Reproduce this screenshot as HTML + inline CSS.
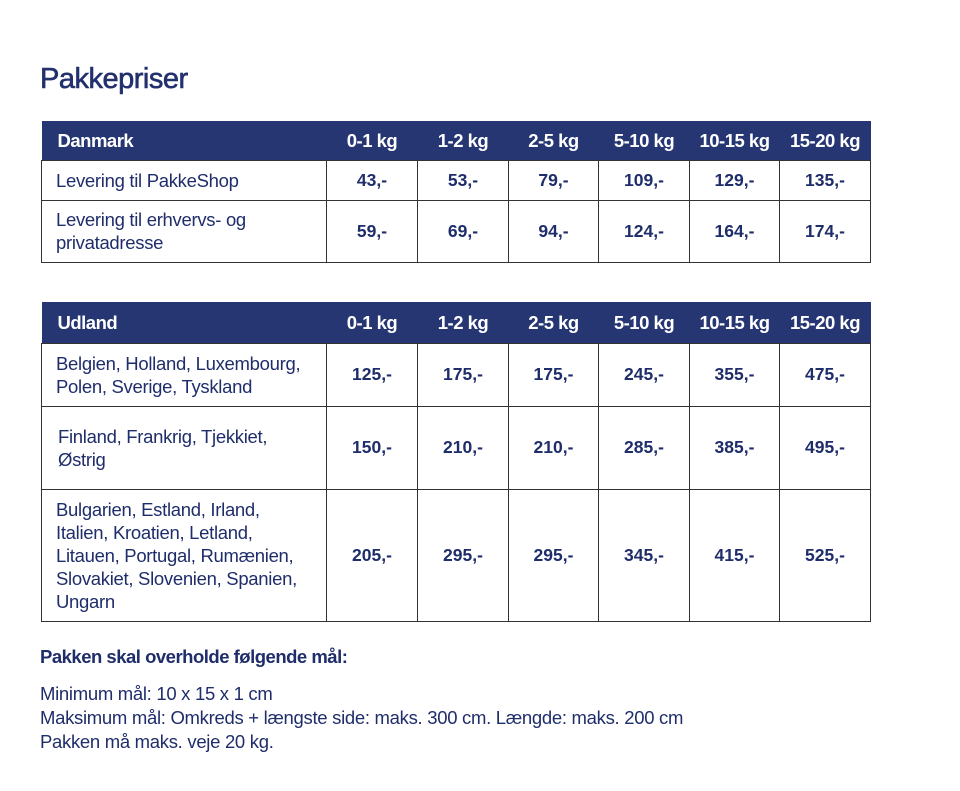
<!DOCTYPE html>
<html><head><meta charset="utf-8"><style>
body{margin:0;width:960px;height:791px;background:#fff;font-family:"Liberation Sans",sans-serif;color:#1f2d6b;position:relative;overflow:hidden}
h1{position:absolute;left:40px;top:63px;margin:0;font-size:29px;font-weight:normal;letter-spacing:-0.5px;color:#23306e;-webkit-text-stroke:0.6px #23306e}
table{position:absolute;left:41px;border-collapse:collapse;table-layout:fixed;width:829px}
td,th{border:1.5px solid #333;font-size:18.5px;line-height:23px;padding:0}
th{background:#253673;color:#fff;font-weight:bold;border:none;text-align:center;letter-spacing:-0.5px}
th.f{text-align:left;padding-left:16px}
td{text-align:center;font-weight:bold;font-size:17.5px}
td.f{text-align:left;font-weight:normal;padding-left:14px;font-size:18.5px;letter-spacing:-0.3px}
.p{position:absolute;left:40px;margin:0;font-size:18.5px;letter-spacing:-0.3px}
</style></head><body>
<h1>Pakkepriser</h1>
<table style="top:121px">
<colgroup><col style="width:285px"><col style="width:91px"><col style="width:91px"><col style="width:90px"><col style="width:91px"><col style="width:90px"><col style="width:91px"></colgroup>
<tr style="height:39px"><th class="f">Danmark</th><th>0-1 kg</th><th>1-2 kg</th><th>2-5 kg</th><th>5-10 kg</th><th>10-15 kg</th><th>15-20 kg</th></tr>
<tr style="height:40px"><td class="f">Levering til PakkeShop</td><td>43,-</td><td>53,-</td><td>79,-</td><td>109,-</td><td>129,-</td><td>135,-</td></tr>
<tr style="height:62px"><td class="f">Levering til erhvervs- og<br>privatadresse</td><td>59,-</td><td>69,-</td><td>94,-</td><td>124,-</td><td>164,-</td><td>174,-</td></tr>
</table>
<table style="top:302px">
<colgroup><col style="width:285px"><col style="width:91px"><col style="width:91px"><col style="width:90px"><col style="width:91px"><col style="width:90px"><col style="width:91px"></colgroup>
<tr style="height:41px"><th class="f">Udland</th><th>0-1 kg</th><th>1-2 kg</th><th>2-5 kg</th><th>5-10 kg</th><th>10-15 kg</th><th>15-20 kg</th></tr>
<tr style="height:63px"><td class="f">Belgien, Holland, Luxembourg,<br>Polen, Sverige, Tyskland</td><td>125,-</td><td>175,-</td><td>175,-</td><td>245,-</td><td>355,-</td><td>475,-</td></tr>
<tr style="height:83px"><td class="f" style="padding-left:16px">Finland, Frankrig, Tjekkiet,<br>Østrig</td><td>150,-</td><td>210,-</td><td>210,-</td><td>285,-</td><td>385,-</td><td>495,-</td></tr>
<tr style="height:132px"><td class="f">Bulgarien, Estland, Irland,<br>Italien, Kroatien, Letland,<br>Litauen, Portugal, Rumænien,<br>Slovakiet, Slovenien, Spanien,<br>Ungarn</td><td>205,-</td><td>295,-</td><td>295,-</td><td>345,-</td><td>415,-</td><td>525,-</td></tr>
</table>
<p class="p" style="top:646px;font-weight:bold;letter-spacing:-0.5px">Pakken skal overholde følgende mål:</p>
<p class="p" style="top:682px;line-height:24px">Minimum mål: 10 x 15 x 1 cm<br>Maksimum mål: Omkreds + længste side: maks. 300 cm. Længde: maks. 200 cm<br>Pakken må maks. veje 20 kg.</p>
</body></html>
